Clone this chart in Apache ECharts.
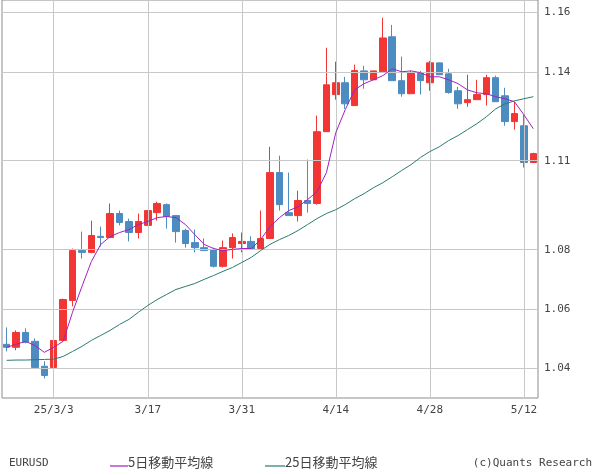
<!DOCTYPE html>
<html><head><meta charset="utf-8">
<script src="https://cdn.jsdelivr.net/npm/echarts@6/dist/echarts.min.js"></script>
<style>html,body{margin:0;padding:0;background:#fff}#c{width:600px;height:475px}</style>
</head><body><div id="c"></div>
<script>
const dates=['2/24','2/25','2/26','2/27','2/28','3/3','3/4','3/5','3/6','3/7','3/10','3/11','3/12','3/13','3/14','3/17','3/18','3/19','3/20','3/21','3/24','3/25','3/26','3/27','3/28','3/31','4/1','4/2','4/3','4/4','4/7','4/8','4/9','4/10','4/11','4/14','4/15','4/16','4/17','4/18','4/21','4/22','4/23','4/24','4/25','4/28','4/29','4/30','5/1','5/2','5/5','5/6','5/7','5/8','5/9','5/12','5/13'];
// [open, close, low, high]
const ohlc=[
[1.0481,1.0471,1.0457,1.0538],[1.0471,1.0521,1.0461,1.0528],[1.0521,1.0488,1.0484,1.0535],[1.0491,1.0403,1.0403,1.0501],[1.0407,1.0376,1.0366,1.0424],
[1.0403,1.0494,1.0393,1.0511],[1.0494,1.0632,1.0494,1.0635],[1.0629,1.0797,1.0609,1.0804],[1.0797,1.0791,1.0770,1.0861],[1.0791,1.0848,1.0788,1.0898],
[1.0845,1.0841,1.0811,1.0878],[1.0841,1.0922,1.0841,1.0956],[1.0922,1.0892,1.0882,1.0932],[1.0895,1.0858,1.0828,1.0905],[1.0858,1.0895,1.0838,1.0922],
[1.0882,1.0932,1.0882,1.0932],[1.0925,1.0956,1.0898,1.0962],[1.0952,1.0912,1.0871,1.0956],[1.0915,1.0861,1.0824,1.0915],[1.0865,1.0821,1.0807,1.0871],
[1.0824,1.0807,1.0791,1.0868],[1.0807,1.0797,1.0797,1.0838],[1.0801,1.0744,1.0740,1.0807],[1.0744,1.0807,1.0740,1.0831],[1.0807,1.0841,1.0770,1.0855],
[1.0821,1.0828,1.0791,1.0858],[1.0828,1.0801,1.0801,1.0845],[1.0804,1.0838,1.0804,1.0932],[1.0838,1.1060,1.0838,1.1147],[1.1060,1.0952,1.0932,1.1117],
[1.0925,1.0915,1.0915,1.1060],[1.0915,1.0966,1.0895,1.0999],[1.0966,1.0956,1.0925,1.1104],[1.0956,1.1198,1.0952,1.1252],[1.1198,1.1356,1.1198,1.1481],
[1.1323,1.1363,1.1306,1.1434],[1.1363,1.1292,1.1275,1.1383],[1.1286,1.1404,1.1286,1.1424],[1.1403,1.1373,1.1343,1.1420],[1.1373,1.1403,1.1380,1.1403],
[1.1400,1.1514,1.1400,1.1582],[1.1518,1.1370,1.1370,1.1558],[1.1370,1.1326,1.1316,1.1451],[1.1326,1.1397,1.1326,1.1403],[1.1397,1.1370,1.1323,1.1403],
[1.1363,1.1430,1.1336,1.1437],[1.1430,1.1390,1.1390,1.1430],[1.1393,1.1330,1.1326,1.1410],[1.1336,1.1292,1.1275,1.1349],[1.1296,1.1306,1.1282,1.1390],
[1.1306,1.1323,1.1306,1.1373],[1.1323,1.1380,1.1286,1.1390],[1.1380,1.1299,1.1299,1.1387],[1.1319,1.1232,1.1218,1.1346],[1.1232,1.1259,1.1205,1.1299],
[1.1218,1.1094,1.1077,1.1255],[1.1094,1.1124,1.1094,1.1127]];
const ma5=[1.0471,1.0481,1.0491,1.0477,1.0454,1.0471,1.0491,1.0589,1.0676,1.0760,1.0818,1.0844,1.0858,1.0868,1.0885,1.0895,1.0908,1.0912,1.0908,1.0885,1.0851,1.0818,1.0804,1.0797,1.0801,1.0804,1.0804,1.0834,1.0878,1.0908,1.0932,1.0945,1.0969,1.0996,1.1060,1.1195,1.1272,1.1339,1.1360,1.1373,1.1387,1.1410,1.1400,1.1403,1.1397,1.1383,1.1383,1.1373,1.1360,1.1339,1.1329,1.1326,1.1316,1.1309,1.1299,1.1255,1.1208];
const ma25=[1.0427,1.0428,1.0428,1.0429,1.0430,1.0431,1.0440,1.0457,1.0474,1.0494,1.0511,1.0528,1.0548,1.0565,1.0589,1.0612,1.0632,1.0649,1.0666,1.0676,1.0686,1.0700,1.0713,1.0727,1.0740,1.0757,1.0774,1.0797,1.0818,1.0834,1.0848,1.0865,1.0885,1.0905,1.0922,1.0935,1.0952,1.0972,1.0989,1.1009,1.1026,1.1046,1.1067,1.1087,1.1111,1.1131,1.1147,1.1168,1.1185,1.1205,1.1225,1.1248,1.1275,1.1292,1.1302,1.1309,1.1316];
const xTickIdx=[5,15,25,35,45,55];
const xTickLabels=['25/3/3','3/17','3/31','4/14','4/28','5/12'];
const yTicks=[1.04,1.06,1.08,1.11,1.14,1.16];

const chart=echarts.init(document.getElementById('c'));
const gridLine={color:'#c8c8c8',width:1,type:'solid'};
chart.setOption({
  animation:false,
  grid:{left:2,right:62,top:0,bottom:77,show:true,borderColor:'#8c8c8c',borderWidth:1},
  xAxis:{type:'category',data:dates,boundaryGap:true,axisLine:{show:false},axisTick:{show:false},splitLine:{show:false},
    axisLabel:{interval:0,color:'#444',fontSize:11,fontFamily:'DejaVu Sans Mono',margin:7,
      formatter:(v,i)=>{const k=xTickIdx.indexOf(i);return k>=0?xTickLabels[k]:'';}}},
  yAxis:{type:'value',position:'right',min:1.03,max:1.1642,interval:0.01,scale:true,
    axisLine:{show:false},axisTick:{show:false},splitLine:{show:false},
    axisLabel:{color:'#444',fontSize:11,fontFamily:'DejaVu Sans Mono',margin:6,showMaxLabel:false,
      formatter:v=>{const r=Math.round(v*100)/100;return yTicks.some(t=>Math.abs(t-r)<1e-6)?r.toFixed(2):'';}}},
  series:[
    {type:'candlestick',data:ohlc,barWidth:7,
      itemStyle:{color:'#f23535',color0:'#4d8cc0',borderColor:'#f23535',borderColor0:'#4d8cc0',borderWidth:1},
      markLine:{symbol:'none',silent:true,label:{show:false},lineStyle:gridLine,animation:false,
        data:[...xTickIdx.map(i=>({xAxis:i})),...yTicks.map(v=>({yAxis:v}))]}},
    {type:'line',data:ma5,symbol:'none',lineStyle:{color:'#a020c0',width:1},z:5},
    {type:'line',data:ma25,symbol:'none',lineStyle:{color:'#2a7a72',width:1},z:5}
  ],
  graphic:[
    {type:'text',left:9,top:458,style:{text:'EURUSD',fill:'#444',font:'11px "DejaVu Sans Mono"'}},
    {type:'line',shape:{x1:110,y1:466,x2:128,y2:466},style:{stroke:'#a020c0',lineWidth:1.2}},
    {type:'text',left:128,top:456,style:{text:'5日移動平均線',fill:'#444',font:'13px "Noto Sans CJK JP"'}},
    {type:'line',shape:{x1:265,y1:466,x2:285,y2:466},style:{stroke:'#2a7a72',lineWidth:1.2}},
    {type:'text',left:285,top:456,style:{text:'25日移動平均線',fill:'#444',font:'13px "Noto Sans CJK JP"'}},
    {type:'text',right:8,top:458,style:{text:'(c)Quants Research',fill:'#444',font:'11px "DejaVu Sans Mono"'}}
  ]
});
</script></body></html>
